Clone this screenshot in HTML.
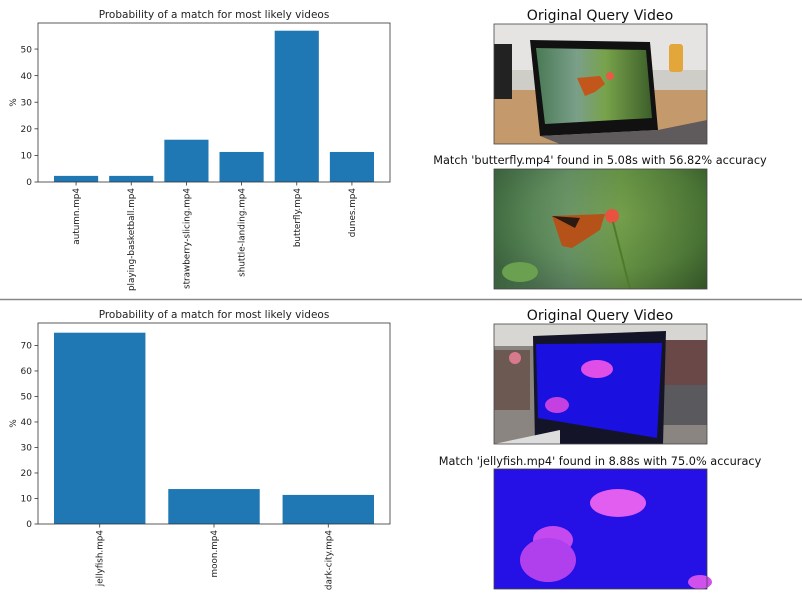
<!DOCTYPE html>
<html><head><meta charset="utf-8"><style>
body{margin:0;background:#fff;width:802px;height:601px;overflow:hidden}
svg{display:block;font-family:"DejaVu Sans","Liberation Sans",sans-serif}
</style></head><body>
<svg id="fig" width="802" height="601" viewBox="0 0 802 601">
<defs>
<radialGradient id="g1" cx="0.6" cy="0.4" r="0.7"><stop offset="0" stop-color="#6f9a4a"/><stop offset="0.6" stop-color="#4f7f3c"/><stop offset="1" stop-color="#2c4a25"/></radialGradient>
<linearGradient id="g2" x1="0" y1="0" x2="1" y2="0"><stop offset="0" stop-color="#4a7a55"/><stop offset="0.35" stop-color="#7a9f8a"/><stop offset="0.6" stop-color="#78a24a"/><stop offset="1" stop-color="#3c5f2a"/></linearGradient>
</defs>
<line x1="0" y1="299.5" x2="802" y2="299.5" stroke="#888" stroke-width="1.5"/>
<g id="chart1"></g>
<g id="chart2"></g>

<text x="600" y="20" font-size="14.1" text-anchor="middle" fill="#111">Original Query Video</text>
<g>
<rect x="494" y="24" width="213" height="120" fill="#c49a6c"/>
<rect x="494" y="24" width="213" height="50" fill="#e6e4e2"/>
<rect x="494" y="70" width="213" height="20" fill="#cfcdc8"/>
<rect x="494" y="44" width="18" height="55" fill="#222"/>
<polygon points="530,40 650,42 658,130 540,136" fill="#111"/>
<polygon points="536,48 646,50 652,118 545,124" fill="url(#g2)"/>
<polygon points="540,136 658,130 707,120 707,144 560,144" fill="#5f5a5c"/>
<rect x="669" y="44" width="14" height="28" fill="#e3a63a" rx="3"/>
<polygon points="577,78 600,76 605,84 595,92 585,96" fill="#c2561b"/>
<circle cx="610" cy="76" r="4" fill="#e85a45"/>
</g>
<text x="600" y="164" font-size="11.3" text-anchor="middle" fill="#111">Match 'butterfly.mp4' found in 5.08s with 56.82% accuracy</text>
<g>
<rect x="494" y="169" width="213" height="120" fill="url(#g2)"/>
<rect x="494" y="169" width="213" height="120" fill="url(#g1)" opacity="0.5"/>
<polygon points="552,216 605,214 600,230 572,248 562,246" fill="#b4521a"/>
<polygon points="552,216 580,218 575,228" fill="#2a1a10"/>
<circle cx="612" cy="216" r="7" fill="#e8533f"/>
<line x1="613" y1="222" x2="630" y2="289" stroke="#4e7a2c" stroke-width="2"/>
<ellipse cx="520" cy="272" rx="18" ry="10" fill="#6aa050"/>
</g>

<text x="600" y="320" font-size="14.1" text-anchor="middle" fill="#111">Original Query Video</text>
<g>
<rect x="494" y="324" width="213" height="120" fill="#8a8580"/>
<rect x="494" y="324" width="213" height="22" fill="#d8d6d2"/>
<rect x="660" y="340" width="47" height="45" fill="#6b4848"/>
<rect x="660" y="385" width="47" height="40" fill="#5a5a5e"/>
<rect x="494" y="350" width="36" height="60" fill="#6c5a52"/>
<circle cx="515" cy="358" r="6" fill="#d77a8e"/>
<polygon points="533,336 666,331 663,444 535,444" fill="#141428"/>
<polygon points="536,344 662,343 657,438 538,418" fill="#1a10e0"/>
<ellipse cx="597" cy="369" rx="16" ry="9" fill="#e04ee8"/>
<ellipse cx="557" cy="405" rx="12" ry="8" fill="#c440e0"/>
<polygon points="494,444 560,430 560,444" fill="#ddd"/>
</g>
<text x="600" y="465" font-size="11.3" text-anchor="middle" fill="#111">Match 'jellyfish.mp4' found in 8.88s with 75.0% accuracy</text>
<g>
<rect x="494" y="469" width="213" height="120" fill="#2510e6"/>
<ellipse cx="618" cy="503" rx="28" ry="14" fill="#e25ef0"/>
<ellipse cx="553" cy="540" rx="20" ry="14" fill="#c44af0"/>
<ellipse cx="548" cy="560" rx="28" ry="22" fill="#b040ee"/>
<ellipse cx="700" cy="582" rx="12" ry="7" fill="#d050ee"/>
</g>
<rect x="494" y="24" width="213" height="120" fill="none" stroke="#444" stroke-width="0.8"/>
<rect x="494" y="169" width="213" height="120" fill="none" stroke="#444" stroke-width="0.8"/>
<rect x="494" y="324" width="213" height="120" fill="none" stroke="#444" stroke-width="0.8"/>
<rect x="494" y="469" width="213" height="120" fill="none" stroke="#444" stroke-width="0.8"/>
</svg>
<script>
const cats1 = ["autumn.mp4","playing-basketball.mp4","strawberry-slicing.mp4","shuttle-landing.mp4","butterfly.mp4","dunes.mp4"];
const vals1 = [2.3, 2.3, 15.9, 11.3, 56.9, 11.3];
const ticks1 = [0,10,20,30,40,50];
const cats2 = ["jellyfish.mp4","moon.mp4","dark-city.mp4"];
const vals2 = [75.0, 13.7, 11.4];
const ticks2 = [0,10,20,30,40,50,60,70];
const NS="http://www.w3.org/2000/svg";
function mk(tag,attrs,parent){const e=document.createElementNS(NS,tag);for(const k in attrs)e.setAttribute(k,attrs[k]);parent.appendChild(e);return e;}
function draw(g,cats,vals,ticks,top,bottom,ymax,pfx){
  const L=38,R=390,n=cats.length;
  const x0=-0.4-0.05*(n-1+0.8),x1=n-1+0.4+0.05*(n-1+0.8);
  const sx=v=>L+(v-x0)/(x1-x0)*(R-L);
  const sy=v=>bottom-v/ymax*(bottom-top);
  const t=mk('text',{x:(L+R)/2,y:top-5,'font-size':10.5,'text-anchor':'middle',fill:'#222'},g);t.textContent='Probability of a match for most likely videos';
  
  
  const yl=mk('text',{x:16,y:(top+bottom)/2,'font-size':9,'text-anchor':'middle',fill:'#222',transform:`rotate(-90 16 ${(top+bottom)/2})`},g);yl.textContent='%';
  
  
  vals.forEach((v,i)=>{
    const b=mk('rect',{x:sx(i-0.4),y:sy(v),width:sx(i+0.4)-sx(i-0.4),height:bottom-sy(v),fill:'#1f77b4'},g);
    
    
    mk('line',{x1:sx(i),x2:sx(i),y1:bottom,y2:bottom+3.5,stroke:'#333','stroke-width':0.8},g);
    const cx=sx(i)+3,cy=bottom+6;
    const lb=mk('text',{x:cx,y:cy,'font-size':8.8,'text-anchor':'end',fill:'#222',transform:`rotate(-90 ${cx} ${cy})`},g);lb.textContent=cats[i];
    
    
  });
  ticks.forEach(tv=>{
    const y=sy(tv);
    mk('line',{x1:L-3.5,x2:L,y1:y,y2:y,stroke:'#333','stroke-width':0.8},g);
    const tl=mk('text',{x:L-6,y:y+3.2,'font-size':9,'text-anchor':'end',fill:'#222'},g);tl.textContent=tv;
    
    
  });
  const fr=mk('rect',{x:L,y:top,width:R-L,height:bottom-top,fill:'none',stroke:'#333','stroke-width':0.8},g);
  
  
}
draw(document.getElementById('chart1'),cats1,vals1,ticks1,23,182,59.8,'top');
draw(document.getElementById('chart2'),cats2,vals2,ticks2,323,524,78.8,'bottom');
</script>
</body></html>
